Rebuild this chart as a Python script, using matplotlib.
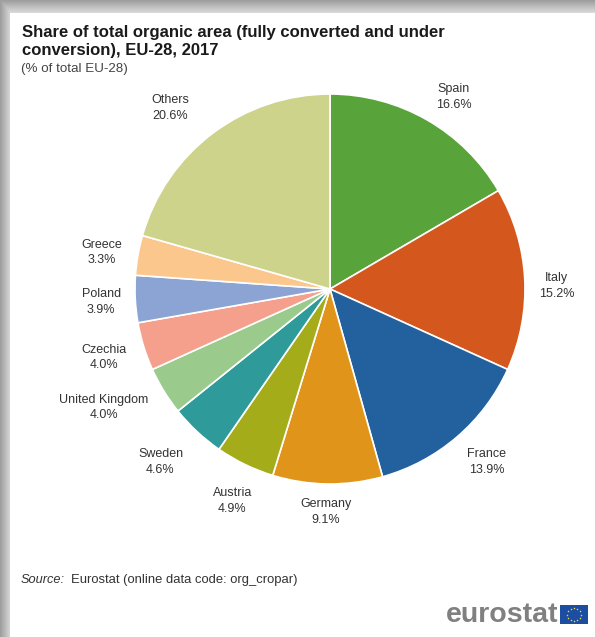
import matplotlib
matplotlib.use('Agg')
import matplotlib.pyplot as plt
import numpy as np
from matplotlib.patches import Rectangle

# Datos
countries = ['Spain', 'Italy', 'France', 'Germany', 'Austria', 'Sweden',
             'United Kingdom', 'Czechia', 'Poland', 'Greece', 'Others']
shares = [16.6, 15.2, 13.9, 9.1, 4.9, 4.6, 4.0, 4.0, 3.9, 3.3, 20.6]
colors = ['#58A33A', '#D4581E', '#23609E', '#E0951A', '#A4AC1A', '#2E9A9A',
          '#9ACB8C', '#F4A08C', '#8BA4D4', '#FBC78C', '#CDD38A']

W, H = 595, 637
plt.rcParams['font.family'] = ['Liberation Sans', 'DejaVu Sans']
fig = plt.figure(figsize=(W / 100, H / 100), dpi=100, facecolor='white')

# Sombra gris arriba y a la izquierda del recuadro
bg = fig.add_axes([0, 0, 1, 1], zorder=0)
xx, yy = np.meshgrid(np.arange(W), np.arange(H))
shade = np.maximum(np.clip((11 - xx) / 11, 0, 1), np.clip((13 - yy) / 13, 0, 1))
shade = np.where((xx < 10) | (yy < 13), 0.62 + 0.25 * (1 - shade), 1.0)
bg.imshow(shade, cmap='gray', vmin=0, vmax=1, aspect='auto')
bg.axis('off')

# Tarta: centro (330, 289), radio 195 px
ax = fig.add_axes([(330 - 195) / W, 1 - (289 + 195) / H, 390 / W, 390 / H], zorder=1)
wedges, _ = ax.pie(shares, colors=colors, startangle=90, counterclock=False, radius=1,
                   wedgeprops={'edgecolor': 'white', 'linewidth': 1.2})
ax.set_xlim(-1, 1)
ax.set_ylim(-1, 1)

# Etiquetas: a 1.17 radios de cada porcion, con un ajuste a mano en px
nudge = [(10, -6), (-1, -9), (8, 0), (-1, 5), (2, -7), (-14, -6),
         (-32, 1), (-8, -1), (-1, -1), (-4, -3), (-22, -1)]
for w, name, val, (dx, dy) in zip(wedges, countries, shares, nudge):
    a = np.deg2rad((w.theta1 + w.theta2) / 2)
    ax.annotate(f'{name}\n{val:.1f}%', (1.17 * np.cos(a), 1.17 * np.sin(a)),
                xytext=(dx * 0.72, dy * 0.72), textcoords='offset points',
                ha='center', va='center', fontsize=9, color='#333333', linespacing=1.4,
                annotation_clip=False)

# Titulo y textos
fig.text(22 / W, 1 - 41.5 / H, 'Share of total organic area (fully converted and under\nconversion), EU-28, 2017',
         fontsize=12, fontweight='bold', color='#1a1a1a', va='center', linespacing=1.2, zorder=3)
fig.text(21 / W, 1 - 69 / H, '(% of total EU-28)', fontsize=9.6, color='#444444', va='center', zorder=3)
fig.text(21 / W, 1 - 580 / H, 'Source:', fontsize=9.2, style='italic', color='#333333', va='center', zorder=3)
fig.text(71 / W, 1 - 580 / H, 'Eurostat (online data code: org_cropar)',
         fontsize=9.4, color='#333333', va='center', zorder=3)

# Logo
fig.text(558 / W, 1 - 615 / H, 'eurostat', fontsize=20.5, fontweight='bold', color='#808080',
         ha='right', va='center', zorder=3)
logo = fig.add_axes([560 / W, 1 - 624 / H, 28 / W, 19 / H], zorder=3)
logo.add_patch(Rectangle((0, 0), 1, 1, color='#1c4da1'))
t = np.arange(12) * np.pi / 6
logo.scatter(0.5 + 0.24 * np.cos(t), 0.5 + 0.36 * np.sin(t), s=1.2, color='#e8d84a', linewidths=0)
logo.set_xlim(0, 1)
logo.set_ylim(0, 1)
logo.axis('off')

fig.savefig('out.png', dpi=100)
